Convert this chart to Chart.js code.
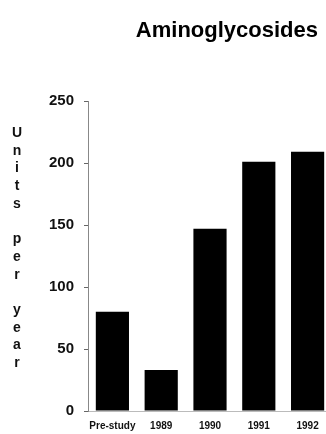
<!DOCTYPE html>
<html>
<head>
<meta charset="utf-8">
<script src="https://cdn.jsdelivr.net/npm/chart.js@4"></script>
<style>
    html, body { margin: 0; padding: 0; background: #fff; overflow: hidden; }
    #wrap { position: relative; width: 326px; height: 434px; overflow: hidden; }
    #box { position: absolute; left: 0; top: 0; width: 336px; height: 434px; }
    #title {
        position: absolute; right: 8px; top: 16px;
        font: bold 22px "Liberation Sans", Arial, sans-serif;
        line-height: 27px; color: #000; white-space: nowrap;
    }
    #ylabel {
        position: absolute; left: 7px; top: 124px; width: 20px;
        font: bold 14px "Liberation Sans", Arial, sans-serif;
        line-height: 17.7px; text-align: center; color: #111;
    }
</style>
</head>
<body>
<div id="wrap">
    <div id="box"><canvas id="myChart" width="336" height="434"></canvas></div>
    <div id="title">Aminoglycosides</div>
    <div id="ylabel">U<br>n<br>i<br>t<br>s<br>&nbsp;<br>p<br>e<br>r<br>&nbsp;<br>y<br>e<br>a<br>r</div>
</div>
<script>
const categories = ["Pre-study", "1989", "1990", "1991", "1992"];
const unitsPerYear = [80, 33, 147, 201, 209];
const yTicks = [0, 50, 100, 150, 200, 250];

function $(query) {
    if (query.includes("#")) return document.querySelector(query);
    return document.querySelectorAll(query);
}

const font = "'Liberation Sans', Arial, sans-serif";

new Chart($('#myChart'), {
    type: 'bar',
    data: {
        labels: categories,
        datasets: [{
            data: unitsPerYear,
            backgroundColor: '#000',
            borderWidth: 0,
            barPercentage: 0.68,
            categoryPercentage: 1
        }]
    },
    options: {
        responsive: false,
        animation: { duration: 0 },
        layout: { padding: { left: 0, right: 4, top: 101, bottom: 0 } },
        plugins: {
            legend: { display: false },
            tooltip: { enabled: false }
        },
        scales: {
            x: {
                grid: { display: false, drawTicks: false },
                border: { display: true, color: '#bbb', width: 1 },
                ticks: {
                    color: '#111',
                    padding: 9,
                    autoSkip: false,
                    font: { family: font, size: 10, weight: 'bold' },
                    maxRotation: 0
                },
                afterFit: (s) => { s.height = 23; }
            },
            y: {
                min: 0,
                max: 250,
                afterBuildTicks: (s) => { s.ticks = yTicks.map(v => ({ value: v })); },
                grid: { drawOnChartArea: false, tickLength: 4, color: '#666' },
                border: { color: '#888', width: 1 },
                ticks: {
                    color: '#111',
                    padding: 10,
                    font: { family: font, size: 15, weight: 'bold' }
                },
                afterFit: (s) => { s.width = 88; }
            }
        }
    }
});
</script>
</body>
</html>
